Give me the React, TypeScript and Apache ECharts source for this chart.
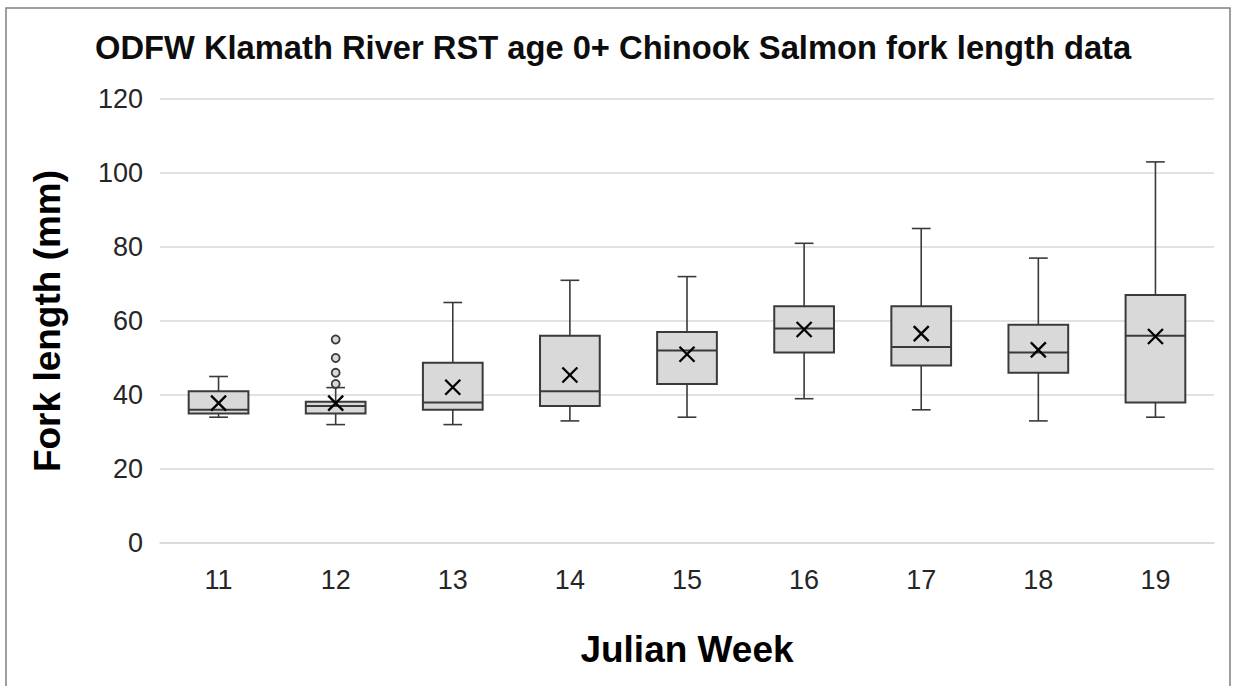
import React, { useEffect, useRef } from "react";
import * as echarts from "echarts";

const weeks = ["11", "12", "13", "14", "15", "16", "17", "18", "19"];
const mins = [34, 32, 32, 33, 34, 39, 36, 33, 34];
const q1s = [35, 35, 36, 37, 43, 51.5, 48, 46, 38];
const medians = [36, 37, 38, 41, 52, 58, 53, 51.5, 56];
const q3s = [41, 38.2, 48.7, 56, 57, 64, 64, 59, 67];
const maxs = [45, 42, 65, 71, 72, 81, 85, 77, 103];
const means = [37.8, 37.8, 42.1, 45.4, 51, 57.7, 56.6, 52.2, 55.8];
const outlierWeek = "12";
const outlierValues = [43, 46, 50, 55];
const yTicks = [0, 20, 40, 60, 80, 100, 120];

const title = "ODFW Klamath River RST age 0+ Chinook Salmon fork length data";
const xName = "Julian Week";
const yName = "Fork length (mm)";

export default function App() {
  const ref = useRef<HTMLDivElement>(null);
  useEffect(() => {
    if (!ref.current) return;
    const chart = echarts.init(ref.current, null, { renderer: "svg" });
    const boxData = weeks.map((w, i) => [i, mins[i], q1s[i], medians[i], q3s[i], maxs[i], means[i]]);
    const stroke = "#3a3a3a";
    const option: any = {
      animation: false,
      backgroundColor: "#ffffff",
      title: {
        text: title,
        left: 90,
        top: 26,
        textStyle: { fontFamily: "Liberation Sans", fontWeight: "bold", fontSize: 32.7, color: "#0d0d0d" },
      },
      graphic: [
        {
          type: "rect",
          shape: { x: 6, y: 8, width: 1224, height: 700 },
          style: { fill: "none", stroke: "#7f7f7f", lineWidth: 1.5 },
          silent: true,
        },
      ],
      grid: { left: 160, right: 19, top: 99, bottom: 143, containLabel: false },
      xAxis: {
        type: "category",
        data: weeks,
        name: xName,
        nameLocation: "middle",
        nameGap: 88,
        nameTextStyle: { fontFamily: "Liberation Sans", fontWeight: "bold", fontSize: 37, color: "#000" },
        axisLine: { show: true, lineStyle: { color: "#d9d9d9", width: 1.5 } },
        axisTick: { show: false },
        axisLabel: { fontFamily: "Liberation Sans", fontSize: 27, color: "#262626", margin: 23 },
        splitLine: { show: false },
      },
      yAxis: {
        type: "value",
        min: yTicks[0],
        max: yTicks[yTicks.length - 1],
        interval: 20,
        name: yName,
        nameLocation: "middle",
        nameGap: 94,
        nameRotate: 90,
        nameTextStyle: { fontFamily: "Liberation Sans", fontWeight: "bold", fontSize: 37, color: "#000" },
        axisLine: { show: false },
        axisTick: { show: false },
        axisLabel: { fontFamily: "Liberation Sans", fontSize: 27, color: "#262626", margin: 17 },
        splitLine: { show: true, lineStyle: { color: "#d9d9d9", width: 1.5 } },
      },
      series: [
        {
          type: "custom",
          data: boxData,
          encode: { x: 0, y: [1, 2, 3, 4, 5, 6] },
          renderItem: (params: any, api: any) => {
            const xi = api.value(0);
            const pMin = api.coord([xi, api.value(1)]);
            const pQ1 = api.coord([xi, api.value(2)]);
            const pMed = api.coord([xi, api.value(3)]);
            const pQ3 = api.coord([xi, api.value(4)]);
            const pMax = api.coord([xi, api.value(5)]);
            const pMean = api.coord([xi, api.value(6)]);
            const bw = api.size([1, 0])[0];
            const half = bw * 0.255;
            const cap = bw * 0.08;
            const cx = pMed[0];
            const ls = { stroke, lineWidth: 1.6 };
            const m = 7.5;
            return {
              type: "group",
              children: [
                { type: "line", shape: { x1: cx, y1: pMax[1], x2: cx, y2: pQ3[1] }, style: ls },
                { type: "line", shape: { x1: cx, y1: pQ1[1], x2: cx, y2: pMin[1] }, style: ls },
                { type: "line", shape: { x1: cx - cap, y1: pMax[1], x2: cx + cap, y2: pMax[1] }, style: ls },
                { type: "line", shape: { x1: cx - cap, y1: pMin[1], x2: cx + cap, y2: pMin[1] }, style: ls },
                {
                  type: "rect",
                  shape: { x: cx - half, y: pQ3[1], width: half * 2, height: pQ1[1] - pQ3[1] },
                  style: { fill: "#d9d9d9", stroke, lineWidth: 2 },
                },
                { type: "line", shape: { x1: cx - half, y1: pMed[1], x2: cx + half, y2: pMed[1] }, style: { stroke, lineWidth: 2 } },
                { type: "line", shape: { x1: pMean[0] - m, y1: pMean[1] - m, x2: pMean[0] + m, y2: pMean[1] + m }, style: { stroke: "#000", lineWidth: 2.3 } },
                { type: "line", shape: { x1: pMean[0] - m, y1: pMean[1] + m, x2: pMean[0] + m, y2: pMean[1] - m }, style: { stroke: "#000", lineWidth: 2.3 } },
              ],
            };
          },
          z: 2,
        },
        {
          type: "scatter",
          data: outlierValues.map((v) => [outlierWeek, v]),
          symbol: "circle",
          symbolSize: 8,
          itemStyle: { color: "#d9d9d9", borderColor: stroke, borderWidth: 1.8, opacity: 1 },
          z: 3,
        },
      ],
    };
    chart.setOption(option);
    return () => chart.dispose();
  }, []);
  return (
    <div
      ref={ref}
      style={{ position: "absolute", left: 0, top: 0, width: 1233, height: 686, background: "#fff" }}
    />
  );
}
